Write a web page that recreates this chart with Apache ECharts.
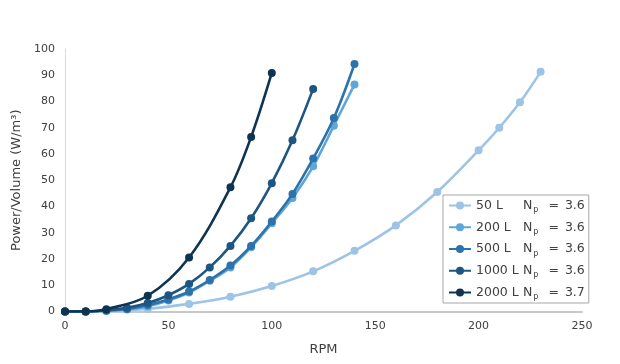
<!DOCTYPE html>
<html>
<head>
<meta charset="utf-8">
<script src="https://cdn.jsdelivr.net/npm/echarts@6/dist/echarts.min.js"></script>
<style>html,body{margin:0;padding:0;background:#fff}#c{width:620px;height:364px}</style>
</head>
<body>
<div id="c"></div>
<script>
const seriesNames = ['50 L', '200 L', '500 L', '1000 L', '2000 L'];
const npValues = ['3.6', '3.6', '3.6', '3.6', '3.7'];
const colors = ['#9DC3E6', '#5EA5DA', '#2C73AC', '#1D5683', '#0F3451'];

const rpm50 = [0, 20, 40, 60, 80, 100, 120, 140, 160, 180, 200, 210, 220, 230];
const p50 = [0, 0.2, 1.0, 2.9, 5.6, 9.7, 15.3, 23.1, 32.8, 45.5, 61.4, 70.0, 79.7, 91.3];

const rpm200 = [0, 10, 20, 30, 40, 50, 60, 70, 80, 90, 100, 110, 120, 130, 140];
const p200 = [0, 0, 0.3, 0.8, 2.0, 4.2, 7.2, 11.7, 16.8, 24.5, 33.6, 43.2, 55.3, 70.8, 86.5];

const rpm500 = [0, 10, 20, 30, 40, 50, 60, 70, 80, 90, 100, 110, 120, 130, 140];
const p500 = [0, 0, 0.4, 1.0, 2.5, 4.6, 7.6, 12.0, 17.5, 25.0, 34.3, 44.8, 58.3, 73.7, 94.3];

const rpm1000 = [0, 10, 20, 30, 40, 50, 60, 70, 80, 90, 100, 110, 120];
const p1000 = [0, 0, 0.5, 1.4, 3.2, 6.2, 10.5, 16.8, 25.0, 35.5, 48.9, 65.2, 84.8];

const rpm2000 = [0, 10, 20, 40, 60, 80, 90, 100];
const p2000 = [0, 0, 0.9, 6.0, 20.6, 47.3, 66.5, 90.9];

const xTicks = { min: 0, max: 250, interval: 50 };
const yTicks = { min: 0, max: 100, interval: 10 };

const xs = [rpm50, rpm200, rpm500, rpm1000, rpm2000];
const ys = [p50, p200, p500, p1000, p2000];

const chart = echarts.init(document.getElementById('c'), null, { renderer: 'canvas' });
const font = 'DejaVu Sans, Verdana, sans-serif';
const txt = '#404040';

const series = seriesNames.map((name, i) => ({
  name: name,
  type: 'line',
  smooth: 0.35,
  data: xs[i].map((x, j) => [x, ys[i][j]]),
  symbol: 'circle',
  symbolSize: 8,
  lineStyle: { width: 2.6, color: colors[i] },
  itemStyle: { color: colors[i] },
  z: 2 + i
}));

chart.setOption({
  animation: false,
  backgroundColor: '#fff',
  grid: { left: 65, right: 38, top: 49, bottom: 52.5, containLabel: false },
  xAxis: {
    type: 'value',
    min: xTicks.min, max: xTicks.max, interval: xTicks.interval,
    name: 'RPM', nameLocation: 'middle', nameGap: 32,
    nameTextStyle: { fontFamily: font, fontSize: 13, color: txt },
    axisLine: { show: true, lineStyle: { color: '#C8C8C8', width: 2 } },
    axisTick: { show: false },
    splitLine: { show: false },
    axisLabel: { fontFamily: font, fontSize: 11, color: txt, margin: 9 }
  },
  yAxis: {
    type: 'value',
    min: yTicks.min, max: yTicks.max, interval: yTicks.interval,
    name: 'Power/Volume (W/m³)', nameLocation: 'middle', nameGap: 40,
    nameTextStyle: { fontFamily: font, fontSize: 13, color: txt },
    axisLine: { show: true, lineStyle: { color: '#D9D9D9', width: 1 } },
    axisTick: { show: false },
    splitLine: { show: false },
    axisLabel: { fontFamily: font, fontSize: 11, color: txt, margin: 10 }
  },
  legend: {
    orient: 'vertical',
    left: 443, top: 195,
    padding: [2, 4, 2, 5],
    itemGap: 4.75,
    itemWidth: 22,
    itemHeight: 10,
    borderColor: '#A6A6A6',
    borderWidth: 1,
    backgroundColor: '#fff',
    data: seriesNames,
    formatter: function (name) {
      const i = seriesNames.indexOf(name);
      return '{a|' + name + '}{n|N}{s|p}{e|=}{f|' + npValues[i] + '}';
    },
    textStyle: {
      fontFamily: font, fontSize: 12.5, color: txt, lineHeight: 17,
      rich: {
        a: { fontFamily: font, fontSize: 12.5, color: txt, width: 47, lineHeight: 17 },
        n: { fontFamily: font, fontSize: 12.5, color: txt, lineHeight: 17 },
        s: { fontFamily: font, fontSize: 8, color: txt, verticalAlign: 'bottom', lineHeight: 10, padding: [0, 0, 0, 1] },
        e: { fontFamily: font, fontSize: 12.5, color: txt, lineHeight: 17, padding: [0, 6, 0, 10] },
        f: { fontFamily: font, fontSize: 12.5, color: txt, lineHeight: 17 }
      }
    }
  },
  series: series
});
</script>
</body>
</html>
